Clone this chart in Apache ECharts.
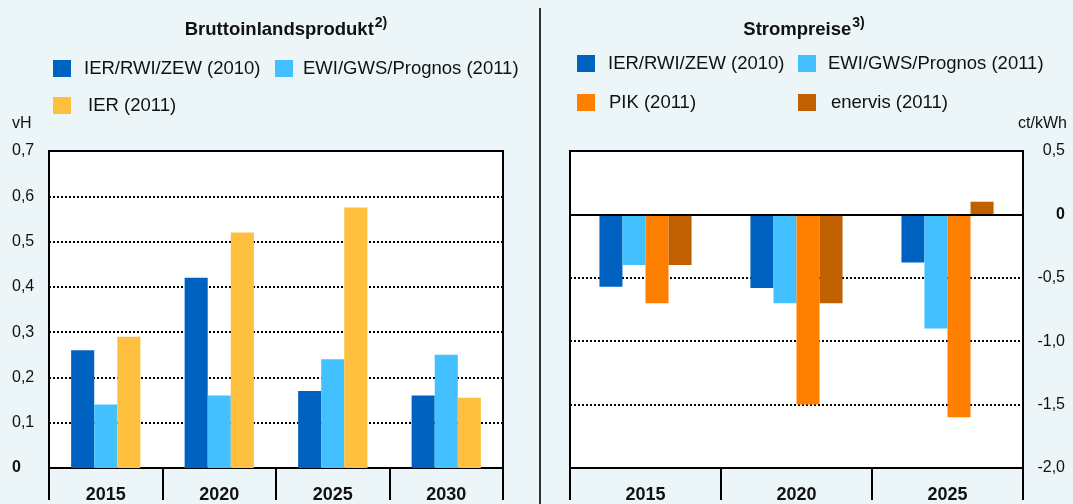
<!DOCTYPE html>
<html>
<head>
<meta charset="utf-8">
<script src="https://cdn.jsdelivr.net/npm/echarts@6/dist/echarts.min.js"></script>
<style>
  html, body { margin: 0; padding: 0; background: #ecf5f8; }
  #chart { width: 1073px; height: 504px; }
</style>
</head>
<body>
<div id="chart"></div>
<script>
  // Bruttoinlandsprodukt (vH)
  const bipYears = ['2015', '2020', '2025', '2030'];
  const bipIerRwiZew = [0.26, 0.42, 0.17, 0.16];
  const bipEwiGws = [0.14, 0.16, 0.24, 0.25];
  const bipIer = [0.29, 0.52, 0.575, 0.155];

  // Strompreise (ct/kWh)
  const spYears = ['2015', '2020', '2025'];
  const spIerRwiZew = [-0.57, -0.58, -0.38];
  const spEwiGws = [-0.40, -0.70, -0.90];
  const spPik = [-0.70, -1.50, -1.60];
  const spEnervis = [-0.40, -0.70, 0.10];

  const C_DARK = '#0062c0';
  const C_LIGHT = '#42c0ff';
  const C_YELLOW = '#ffc040';
  const C_ORANGE = '#ff8000';
  const C_BROWN = '#c06000';

  const font = 'Liberation Sans, Arial, sans-serif';

  // Zahl im deutschen Format
  function fmt(v) {
    if (v === 0) return '{z|0}';
    return v.toFixed(1).replace('.', ',');
  }

  function legendItem(name, left, top, pad) {
    return {
      data: [name], left: left, top: top, padding: 0,
      itemWidth: 18, itemHeight: 17, icon: 'rect',
      textStyle: { fontFamily: font, fontSize: 18.5, color: '#111', padding: [0, 0, 0, pad] }
    };
  }

  function titleRich(name, sup, center, top) {
    return {
      text: '{t|' + name + '}{s|' + sup + '}',
      left: center, top: top, textAlign: 'center', padding: 0,
      textStyle: {
        rich: {
          t: { fontFamily: font, fontSize: 18.5, fontWeight: 'bold', color: '#111' },
          s: { fontFamily: font, fontSize: 14, color: '#111', padding: [0, 0, 13, 1] }
        }
      }
    };
  }

  function catAxis(gridIndex, data) {
    return {
      type: 'category', gridIndex: gridIndex, data: data,
      axisLine: { show: true, onZero: false, lineStyle: { color: '#000', width: 2 } },
      axisTick: { show: true, inside: false, interval: 0, alignWithLabel: false, length: 32,
        lineStyle: { color: '#000', width: 2 } },
      axisLabel: { fontFamily: font, fontSize: 18, fontWeight: 'bold', color: '#111', margin: 18 }
    };
  }

  const dotted = { color: '#000', width: 2, type: [2, 2] };
  const labelRich = { z: { fontWeight: 'bold', fontSize: 16, fontFamily: font, color: '#111' } };
  const unitStyle = { fontFamily: font, fontSize: 16, fill: '#111' };

  const chart = echarts.init(document.getElementById('chart'));

  const option = {
    backgroundColor: '#ecf5f8',
    animation: false,
    title: [
      titleRich('Bruttoinlandsprodukt', '2)', 286, 16),
      titleRich('Strompreise', '3)', 804, 16)
    ],
    legend: [
      legendItem('IER/RWI/ZEW (2010)', 53, 59, 8),
      legendItem('EWI/GWS/Prognos (2011)', 275, 59, 5),
      legendItem('IER (2011)', 53, 96, 12),
      legendItem('IER/RWI/ZEW (2010)', 577, 54, 8),
      legendItem('EWI/GWS/Prognos (2011)', 798, 54, 7),
      legendItem('PIK (2011)', 577, 93, 9),
      legendItem('enervis (2011)', 798, 93, 10)
    ],
    grid: [
      { left: 49, right: 1073 - 503, top: 151, bottom: 504 - 468, outerBoundsMode: 'none',
        show: true, backgroundColor: '#fff', borderColor: '#000', borderWidth: 2 },
      { left: 570, right: 1073 - 1023, top: 151, bottom: 504 - 468, outerBoundsMode: 'none',
        show: true, backgroundColor: '#fff', borderColor: '#000', borderWidth: 2 }
    ],
    xAxis: [catAxis(0, bipYears), catAxis(1, spYears)],
    yAxis: [
      { type: 'value', gridIndex: 0, min: 0, max: 0.7, interval: 0.1,
        axisLine: { show: false }, axisTick: { show: false },
        splitLine: { lineStyle: dotted },
        axisLabel: { formatter: fmt, align: 'left', margin: 37, fontFamily: font, fontSize: 16, color: '#111', rich: labelRich } },
      { type: 'value', gridIndex: 1, position: 'right', min: -2, max: 0.5, interval: 0.5,
        axisLine: { show: false }, axisTick: { show: false },
        splitLine: { lineStyle: dotted },
        axisLabel: { formatter: fmt, align: 'right', margin: 42, fontFamily: font, fontSize: 16, color: '#111', rich: labelRich } }
    ],
    series: [
      { name: 'IER/RWI/ZEW (2010)', type: 'bar', xAxisIndex: 0, yAxisIndex: 0, data: bipIerRwiZew,
        itemStyle: { color: C_DARK }, barGap: '0%', barCategoryGap: '39%' },
      { name: 'EWI/GWS/Prognos (2011)', type: 'bar', xAxisIndex: 0, yAxisIndex: 0, data: bipEwiGws,
        itemStyle: { color: C_LIGHT }, barGap: '0%', barCategoryGap: '39%' },
      { name: 'IER (2011)', type: 'bar', xAxisIndex: 0, yAxisIndex: 0, data: bipIer,
        itemStyle: { color: C_YELLOW }, barGap: '0%', barCategoryGap: '39%' },

      { name: 'IER/RWI/ZEW (2010)', type: 'bar', xAxisIndex: 1, yAxisIndex: 1, data: spIerRwiZew,
        itemStyle: { color: C_DARK }, barGap: '0%', barCategoryGap: '39%',
        markLine: {
          silent: true, symbol: 'none', label: { show: false },
          lineStyle: { color: '#000', width: 2, type: 'solid' },
          data: [{ yAxis: 0 }], z: 5
        } },
      { name: 'EWI/GWS/Prognos (2011)', type: 'bar', xAxisIndex: 1, yAxisIndex: 1, data: spEwiGws,
        itemStyle: { color: C_LIGHT }, barGap: '0%', barCategoryGap: '39%' },
      { name: 'PIK (2011)', type: 'bar', xAxisIndex: 1, yAxisIndex: 1, data: spPik,
        itemStyle: { color: C_ORANGE }, barGap: '0%', barCategoryGap: '39%' },
      { name: 'enervis (2011)', type: 'bar', xAxisIndex: 1, yAxisIndex: 1, data: spEnervis,
        itemStyle: { color: C_BROWN }, barGap: '0%', barCategoryGap: '39%' }
    ],
    graphic: [
      { type: 'line', shape: { x1: 540, y1: 8, x2: 540, y2: 504 },
        style: { stroke: '#333', lineWidth: 2 } },
      { type: 'text', left: 12, top: 116, style: Object.assign({ text: 'vH' }, unitStyle) },
      { type: 'text', right: 6, top: 116, style: Object.assign({ text: 'ct/kWh' }, unitStyle) }
    ]
  };

  chart.setOption(option);
</script>
</body>
</html>
